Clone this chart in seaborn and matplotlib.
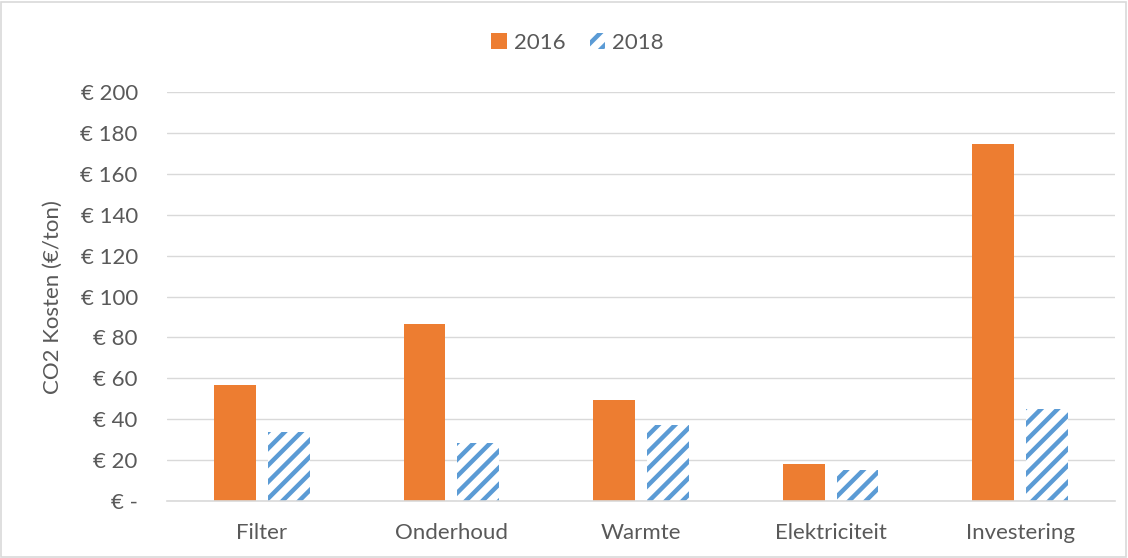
import pandas as pd
import seaborn as sns
import matplotlib.pyplot as plt
from matplotlib.patches import Patch, Rectangle
from matplotlib.ticker import FuncFormatter

# Chart data
categories = ["Filter", "Onderhoud", "Warmte", "Elektriciteit", "Investering"]
years = ["2016", "2018"]
kosten_2016 = [57, 86.5, 49.5, 18, 174.5]
kosten_2018 = [34, 28.5, 37, 15, 45]
yticks = [0, 20, 40, 60, 80, 100, 120, 140, 160, 180, 200]

orange = "#ED7D31"
blue = "#5B9BD5"
grey_text = "#595959"
grid_col = "#D9D9D9"
fs = 16

df = pd.DataFrame({
    "categorie": categories * 2,
    "jaar": [years[0]] * len(categories) + [years[1]] * len(categories),
    "kosten": kosten_2016 + kosten_2018,
})

sns.set_style("white")
plt.rcParams["font.family"] = ["Lato", "DejaVu Sans"]
plt.rcParams["hatch.linewidth"] = 3.2

fig, ax = plt.subplots(figsize=(11.28, 5.58), dpi=100)
fig.subplots_adjust(left=0.148, right=0.9885, bottom=0.102, top=0.835)

sns.barplot(data=df, x="categorie", y="kosten", hue="jaar",
            palette=[orange, blue], width=0.568, gap=0.225,
            legend=False, ax=ax)

# 2016 solid orange, 2018 diagonal blue stripes
for bar in ax.containers[0]:
    bar.set_facecolor(orange)
    bar.set_linewidth(0)
for bar in ax.containers[1]:
    bar.set_facecolor("white")
    bar.set_edgecolor(blue)
    bar.set_hatch("//")
    bar.set_linewidth(0)

ax.set_ylim(0, 200)
ax.set_yticks(yticks)
ax.yaxis.set_major_formatter(FuncFormatter(lambda v, p: "€ -" if v == 0 else f"€ {v:.0f}"))
ax.yaxis.grid(True, color=grid_col, lw=1)
ax.set_axisbelow(True)

for s in ["top", "right", "left"]:
    ax.spines[s].set_visible(False)
ax.spines["bottom"].set_color(grid_col)
ax.spines["bottom"].set_linewidth(1.2)

ax.tick_params(axis="y", length=0, pad=21, labelsize=fs, labelcolor=grey_text)
ax.tick_params(axis="x", length=0, pad=16, labelsize=fs, labelcolor=grey_text)

ax.set_xlabel("")
ax.set_ylabel("CO2 Kosten (€/ton)", fontsize=fs, color=grey_text)
ax.yaxis.set_label_coords(-0.11, 0.5)

handles = [Patch(facecolor=orange, linewidth=0, label="2016"),
           Patch(facecolor="white", edgecolor=blue, hatch="//", linewidth=0, label="2018")]
fig.legend(handles=handles, loc="center", bbox_to_anchor=(0.512, 0.923), ncol=2,
           frameon=False, fontsize=fs, labelcolor=grey_text,
           handlelength=0.7, handleheight=0.7, handletextpad=0.3, columnspacing=1.1)

# chart area border
fig.add_artist(Rectangle((0.001, 0.002), 0.997, 0.995, transform=fig.transFigure,
                         fill=False, edgecolor=grid_col, lw=1.2))

fig.savefig("out.png", dpi=100)
